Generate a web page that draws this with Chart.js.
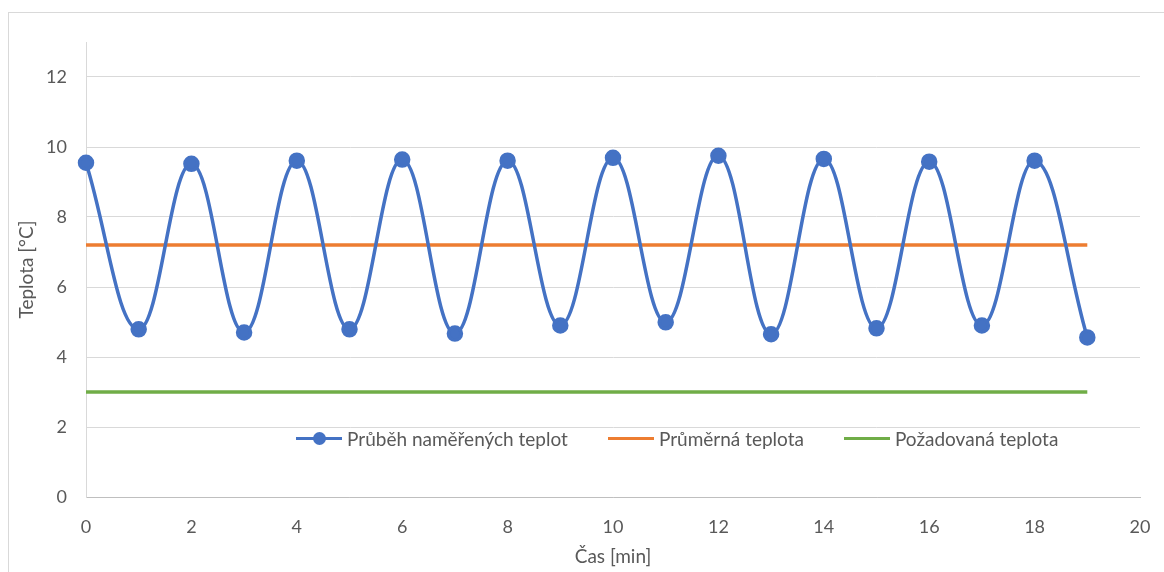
<!DOCTYPE html>
<html>
<head>
<meta charset="utf-8">
<script src="https://cdn.jsdelivr.net/npm/chart.js@4.4.1/dist/chart.umd.min.js"></script>
<style>
  body { margin: 0; background: #fff; font-family: Lato, "Noto Sans", sans-serif; }
  #wrap { position: relative; width: 1164px; height: 572px; overflow: hidden; }
  #ramecek { position: absolute; left: 8px; top: 12px; width: 1170px; height: 600px; border: 1px solid #d9d9d9; box-sizing: border-box; }
  #legenda { position: absolute; top: 427px; left: 296px; display: flex; font-size: 19px; color: #595959; }
  .polozka { display: flex; align-items: center; margin-right: 40px; }
  .znacka { position: relative; width: 46px; height: 3px; margin-right: 5px; }
  .znacka span { position: absolute; left: 17px; top: -5px; width: 13px; height: 13px; border-radius: 50%; }
</style>
</head>
<body>
<div id="wrap">
  <div id="ramecek"></div>
  <canvas id="graf" width="1164" height="572"></canvas>
  <div id="legenda"></div>
</div>
<script>
// cas v minutach a namerene teploty
const casy = [0, 1, 2, 3, 4, 5, 6, 7, 8, 9, 10, 11, 12, 13, 14, 15, 16, 17, 18, 19];
const teploty = [9.55, 4.79, 9.52, 4.70, 9.61, 4.79, 9.64, 4.67, 9.61, 4.90,
                 9.69, 4.99, 9.75, 4.65, 9.66, 4.82, 9.58, 4.90, 9.61, 4.56];
const prumernaTeplota = 7.2;
const pozadovanaTeplota = 3;
const nazvySerii = ['Průběh naměřených teplot', 'Průměrná teplota', 'Požadovaná teplota'];
const barvy = ['#4472c4', '#ed7d31', '#70ad47'];

const prvni = casy[0];
const posledni = casy[casy.length - 1];

const ctx = document.getElementById('graf');
const rodina = 'Lato, "Noto Sans", sans-serif';

const myChart = new Chart(ctx, {
    type: 'line',
    data: {
        datasets: [{
            label: nazvySerii[0],
            data: casy.map((c, i) => ({ x: c, y: teploty[i] })),
            borderColor: barvy[0],
            backgroundColor: barvy[0],
            borderWidth: 3.5,
            pointRadius: 6.5,
            tension: 0.4,
            clip: false
        }, {
            label: nazvySerii[1],
            data: [{ x: prvni, y: prumernaTeplota }, { x: posledni, y: prumernaTeplota }],
            borderColor: barvy[1],
            borderWidth: 3.5,
            pointRadius: 0
        }, {
            label: nazvySerii[2],
            data: [{ x: prvni, y: pozadovanaTeplota }, { x: posledni, y: pozadovanaTeplota }],
            borderColor: barvy[2],
            borderWidth: 3.5,
            pointRadius: 0
        }]
    },
    options: {
        responsive: false,
        animation: false,
        layout: { padding: { top: 42, right: 24, left: 0, bottom: 0 } },
        plugins: { legend: { display: false }, tooltip: { enabled: false } },
        scales: {
            x: {
                type: 'linear',
                min: 0,
                max: 20,
                afterFit: s => { s.height = 75; },
                ticks: { stepSize: 2, color: '#595959', font: { family: rodina, size: 18 }, padding: 11 },
                grid: { display: false },
                border: { color: '#bfbfbf', width: 1 },
                title: { display: true, text: 'Čas [min]', color: '#595959', font: { family: rodina, size: 19 }, padding: { top: 0 } }
            },
            y: {
                min: 0,
                max: 13,
                afterFit: s => { s.width = 86; },
                afterBuildTicks: s => { s.ticks = s.ticks.filter(t => t.value % 2 === 0); },
                ticks: { stepSize: 2, color: '#595959', font: { family: rodina, size: 18 }, padding: 19 },
                grid: { color: '#d9d9d9', drawTicks: false },
                border: { color: '#d9d9d9', width: 1 },
                title: { display: true, text: 'Teplota [°C]', color: '#595959', font: { family: rodina, size: 19 }, padding: { bottom: 0, top: 15 } }
            }
        }
    }
});

// legenda uvnitr grafu
const legenda = document.getElementById('legenda');
myChart.data.datasets.forEach((ds, i) => {
    const pol = document.createElement('div');
    pol.className = 'polozka';
    const zn = document.createElement('div');
    zn.className = 'znacka';
    zn.style.background = ds.borderColor;
    if (i === 0) {
        const bod = document.createElement('span');
        bod.style.background = ds.borderColor;
        zn.appendChild(bod);
    }
    pol.appendChild(zn);
    const txt = document.createElement('div');
    txt.textContent = ds.label;
    pol.appendChild(txt);
    legenda.appendChild(pol);
});
</script>
</body>
</html>
